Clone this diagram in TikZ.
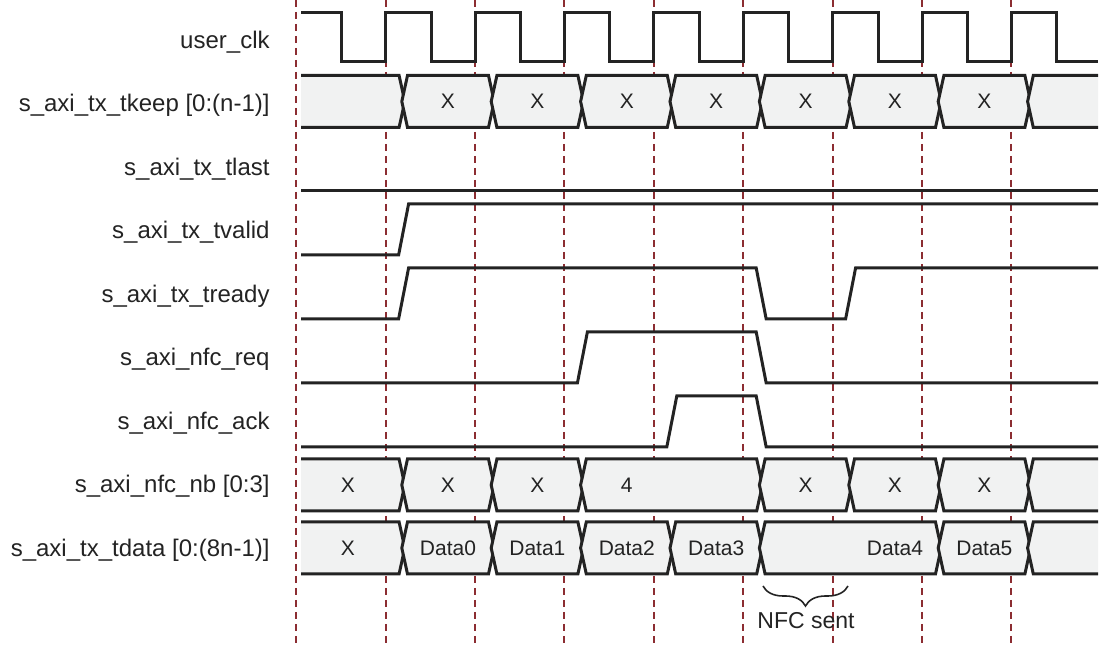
\documentclass[tikz,border=0pt]{standalone}
\usepackage{fontspec}
\setmainfont{Liberation Sans}
\usepackage{tikz}
\usetikzlibrary{decorations.pathreplacing}
\definecolor{busgray}{RGB}{241,242,242}
\definecolor{edgered}{RGB}{140,45,50}
\definecolor{inkgray}{RGB}{35,35,35}
\tikzstyle{sig} = [draw=inkgray, line width=1.5pt, line join=miter]
\tikzstyle{guide} = [draw=edgered, line width=1pt, dash pattern=on 3.6pt off 2.4pt]
\tikzstyle{signame} = [anchor=base east, inner sep=0pt, text=inkgray,
    font=\fontsize{12}{14}\selectfont]
\tikzstyle{busval} = [anchor=base, inner sep=0pt, text=inkgray,
    font=\fontsize{10.5}{12}\selectfont]
% bus pieces: centre, crossing(s)
\newcommand{\busfirst}[2]{
  \fill[busgray] (301,#1-26) -- (#2-4.2,#1-26) -- (#2+1.5,#1) -- (#2-4.2,#1+26) -- (301,#1+26) -- cycle;
  \draw[sig] (301,#1-26) -- (#2-4.2,#1-26) -- (#2+1.5,#1) -- (#2-4.2,#1+26) -- (301,#1+26);}
\newcommand{\buslast}[2]{
  \fill[busgray] (1098,#1-26) -- (#2+4.2,#1-26) -- (#2-1.5,#1) -- (#2+4.2,#1+26) -- (1098,#1+26) -- cycle;
  \draw[sig] (1098,#1-26) -- (#2+4.2,#1-26) -- (#2-1.5,#1) -- (#2+4.2,#1+26) -- (1098,#1+26);}
\newcommand{\busmid}[3]{
  \filldraw[sig, fill=busgray] (#2+4.2,#1-26) -- (#3-4.2,#1-26) -- (#3+1.5,#1) -- (#3-4.2,#1+26)
    -- (#2+4.2,#1+26) -- (#2-1.5,#1) -- cycle;}

\begin{document}
\begin{tikzpicture}[x=0.5pt, y=-0.5pt]
  \useasboundingbox (0,0) rectangle (1100,646);
  \foreach \k in {0,...,8}
    \draw[guide] (296.2+\k*89.4,0) -- (296.2+\k*89.4,646);

  \foreach \lab [count=\k from 0] in {user\_clk, {s\_axi\_tx\_tkeep [0:(n-1)]}, s\_axi\_tx\_tlast,
      s\_axi\_tx\_tvalid, s\_axi\_tx\_tready, s\_axi\_nfc\_req, s\_axi\_nfc\_ack,
      {s\_axi\_nfc\_nb [0:3]}, {s\_axi\_tx\_tdata [0:(8n-1)]}}
    \node[signame] (lab\k) at (270,48.5+\k*63.5) {\lab};

  \draw[sig] (301,13) foreach \k in {0,...,7} {
      -- (296.2+\k*89.4+45.5,13) -- (296.2+\k*89.4+45.5,62)
      -- (385.6+\k*89.4,62) -- (385.6+\k*89.4,13) }
    -- (1056.9,13) -- (1056.9,62) -- (1098,62);

  \busfirst{101.5}{403.3}
  \foreach \a/\b in {403.3/492.7, 492.7/582.1, 582.1/671.5, 671.5/760.9,
      760.9/850.3, 850.3/939.7, 939.7/1029.1}
    \busmid{101.5}{\a}{\b};
  \buslast{101.5}{1029.1}
  \foreach \x [count=\i] in {448, 537.4, 626.8, 716.2, 805.6, 895, 984.4}
    \node[busval] (keep\i) at (\x,108.5) {X};

  \draw[sig] (301,191) -- (1098,191);
  \draw[sig] (301,255) -- (398.6,255) -- (408.6,204) -- (1098,204);
  \draw[sig] (301,319) -- (398.6,319) -- (408.6,268) -- (756.2,268) -- (766.2,319)
    -- (845.6,319) -- (855.6,268) -- (1098,268);
  \draw[sig] (301,383) -- (577.4,383) -- (587.4,332) -- (756.2,332) -- (766.2,383) -- (1098,383);
  \draw[sig] (301,447) -- (666.8,447) -- (676.8,396) -- (756.2,396) -- (766.2,447) -- (1098,447);

  \busfirst{485}{403.3}
  \foreach \a/\b in {403.3/492.7, 492.7/582.1, 582.1/760.9, 760.9/850.3,
      850.3/939.7, 939.7/1029.1}
    \busmid{485}{\a}{\b};
  \buslast{485}{1029.1}
  \foreach \x/\v [count=\i] in {348/X, 448/X, 537.4/X, 626.8/4, 805.6/X, 895/X, 984.4/X}
    \node[busval] (nb\i) at (\x,492.5) {\v};

  \busfirst{548}{403.3}
  \foreach \a/\b in {403.3/492.7, 492.7/582.1, 582.1/671.5, 671.5/760.9,
      760.9/939.7, 939.7/1029.1}
    \busmid{548}{\a}{\b};
  \buslast{548}{1029.1}
  \foreach \x/\v [count=\i] in {348/X, 448/Data0, 537.4/Data1, 626.8/Data2,
      716.2/Data3, 895/Data4, 984.4/Data5}
    \node[busval] (data\i) at (\x,555.5) {\v};

  \draw[inkgray, line width=0.8pt, decorate, decoration={brace, mirror, amplitude=10pt}]
    (763,586) -- (848,586);
  \node[busval, font=\fontsize{11.5}{13}\selectfont] (nfc) at (806,628.3) {NFC sent};
\end{tikzpicture}
\end{document}
